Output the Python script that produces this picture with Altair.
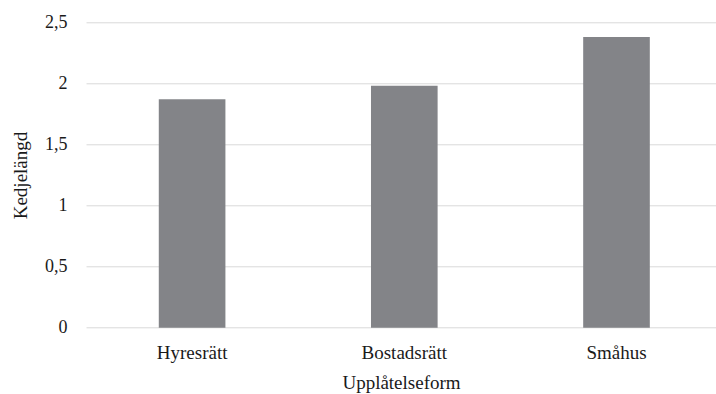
import altair as alt
import pandas as pd

# Average chain length per tenure type
categories = ["Hyresrätt", "Bostadsrätt", "Småhus"]
values = [1.87, 1.98, 2.38]
y_ticks = [0, 0.5, 1, 1.5, 2, 2.5]

df = pd.DataFrame({"form": categories, "langd": values})

FONT = "Liberation Serif"
GRID = "#d9d9d9"
BAR = "#838488"
TEXT = "#1a1a1a"

chart = (
    alt.Chart(df)
    .mark_bar(color=BAR)
    .encode(
        x=alt.X(
            "form:N",
            sort=categories,
            scale=alt.Scale(range=[0, 636.6], paddingInner=0.686, paddingOuter=0.343),
            axis=alt.Axis(
                title="Upplåtelseform",
                labelAngle=0,
                labelFontSize=19,
                labelPadding=16,
                ticks=False,
                domain=False,
                grid=False,
                titleX=315,
                titleY=60.6,
                titleBaseline="alphabetic",
                titleAlign="center",
            ),
        ),
        y=alt.Y(
            "langd:Q",
            scale=alt.Scale(domain=[0, 2.5], nice=False),
            axis=alt.Axis(
                title="Kedjelängd",
                values=y_ticks,
                labelExpr="replace(format(datum.value, '~g'), '.', ',')",
                labelFontSize=18,
                labelPadding=19,
                ticks=False,
                domain=False,
                grid=True,
                gridColor=GRID,
                gridWidth=1,
                titleAngle=270,
                titleAlign="center",
                titleBaseline="middle",
                titleX=-66,
                titleY=152.7,
            ),
        ),
    )
    .properties(
        width=630,
        height=305.4,
        autosize=alt.AutoSizeParams(type="none"),
        padding={"left": 86, "top": 22.3, "right": 0, "bottom": 66.3},
    )
    .configure(font=FONT)
    .configure_axis(
        labelFont=FONT,
        titleFont=FONT,
        labelColor=TEXT,
        titleColor=TEXT,
        titleFontSize=19,
        titleFontWeight="normal",
    )
    .configure_view(stroke=None)
)

chart.save("out.html", embed_options={"renderer": "svg", "actions": False})
